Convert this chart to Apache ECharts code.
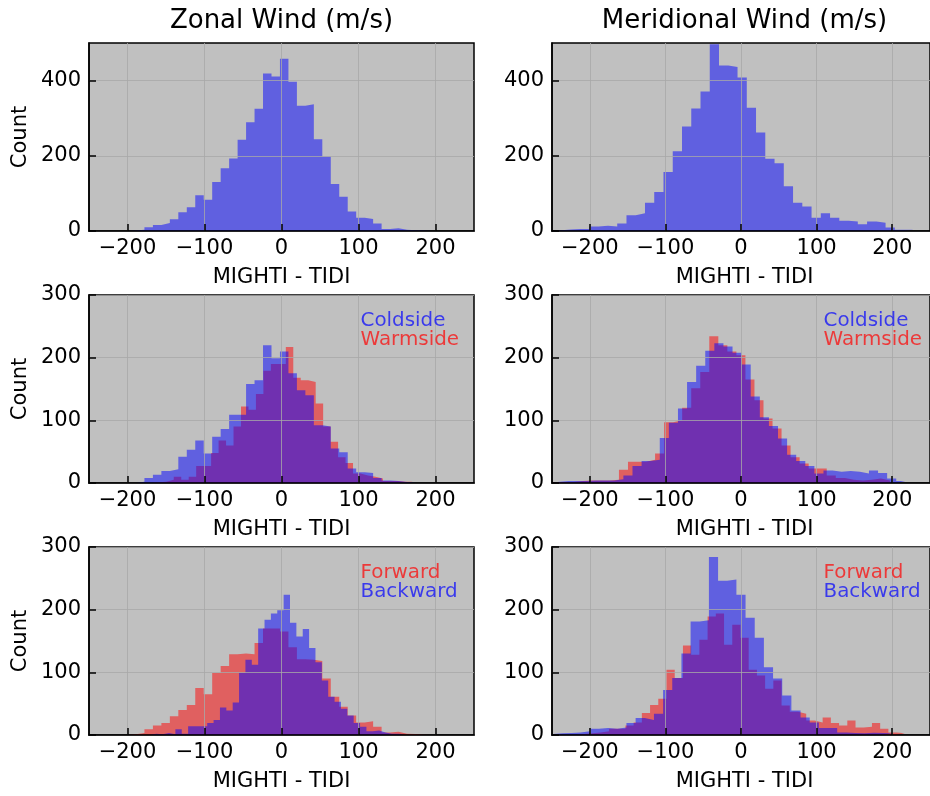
<!DOCTYPE html>
<html><head><meta charset="utf-8">
<script src="https://cdn.jsdelivr.net/npm/echarts@6/dist/echarts.min.js"></script>
<style>html,body{margin:0;padding:0;background:#fff}#c{width:930px;height:796px}</style>
</head><body><div id="c"></div>
<script>
// ---------- data ----------
const xTicks = [-200, -100, 0, 100, 200];
const yTicksTop = [0, 200, 400];
const yTicksLow = [0, 100, 200, 300];
const columnTitles = ['Zonal Wind (m/s)', 'Meridional Wind (m/s)'];
const xName = 'MIGHTI - TIDI';
const yName = 'Count';
const labelsSide = ['Coldside', 'Warmside'];
const labelsDir = ['Forward', 'Backward'];

// each histogram: first bin edge, bin width, counts
const zonalAllStart = -200, zonalAllWidth = 11;
const zonalAllCounts = [1,3,10,16,21,31,50,63,95,83,130,167,193,243,289,325,419,411,458,397,333,337,244,198,125,91,52,35,32,20,5,7,3,2,1,2];

const meridAllStart = -249.4, meridAllWidth = 12.24;
const meridAllCounts = [2,4,5,5,12,14,12,20,42,47,75,104,157,212,278,326,371,497,440,436,408,328,262,192,180,119,75,65,35,47,35,27,25,18,25,22,9,3,3];

const zonalColdStart = -200, zonalColdWidth = 11;
const zonalColdCounts = [0,2,8,13,19,22,42,53,68,47,74,86,109,109,158,164,220,199,210,175,148,140,92,90,55,49,23,17,16,8,4,3,1.5,1.5];

const zonalWarmStart = -169.0, zonalWarmWidth = 9.7;
const zonalWarmCounts = [1,2,5,10,5,10,27,27,48,68,60,90,122,117,142,179,190,190,217,168,164,161,127,90,66,41,32,15,12,10,7,3,3,2,2];

const meridColdStart = -251.8, meridColdWidth = 12.03;
const meridColdCounts = [2,3,3,3,4,4,4,6,12,27,35,37,72,96,119,161,187,211,223,218,208,189,138,105,91,71,45,35,27,15,20,18,19,18,15,20,16,7,3];

const meridWarmStart = -257.05, meridWarmWidth = 11.95;
const meridWarmCounts = [1.5,1.5,1.5,3,4,4,4,5,21,34,34,37,47,97,100,120,151,177,234,220,210,204,165,132,103,87,60,41,31,23,23,12,8,5,4,5,7,4];

const zonalFwdStart = -200, zonalFwdWidth = 11;
const zonalFwdCounts = [1,3,9,15,19,30,40,48,75,65,99,110,129,130,129,147,170,170,165,140,121,120,118,90,61,45,31,20,22,13,4,5,2,1.5,0.5,2];

const zonalBwdStart = -170.9, zonalBwdWidth = 8.27;
const zonalBwdCounts = [2,1,3,1,9,2,14,14,14,19,24,44,39,52,99,120,112,170,184,194,199,224,179,157,169,139,116,87,61,53,42,31,19,13,6,7,4,2,2,1];

const meridFwdStart = -218.1, meridFwdWidth = 10.87;
const meridFwdCounts = [1.5,2.7,4,6,10,10,15,20,35,48,58,104,91,143,128,152,189,194,144,176,155,104,95,74,87,47,37,34,23,20,28,19,15,23,12,13,19,10,4,2.7];

const meridBwdStart = -260.6, meridBwdWidth = 12.12;
const meridBwdCounts = [1.5,2.7,3,4,6,10,11,10,12,19,27,24,34,72,91,130,181,183,284,246,248,224,187,155,108,90,63,39,28,20,11,11,4,3,2.7,3.7,3,2.7];

// ---------- layout / style ----------
const FONT = 'DejaVu Sans';
const RED = 'rgb(255,0,0)', BLUE = 'rgb(0,0,255)';
const lefts = [89, 552], tops = [43, 295, 547], W = 385, H = 188;

function steps(start, width, counts) {
  const pts = [[start, 0]];
  counts.forEach((c, i) => pts.push([start + i * width, c]));
  pts.push([start + counts.length * width, 0]);
  return pts;
}
const fmt = v => (v < 0 ? '\u2212' + (-v) : String(v));

const panels = [
  { row: 0, col: 0, ymax: 500, yt: yTicksTop, hists: [[zonalAllStart, zonalAllWidth, zonalAllCounts, BLUE]] },
  { row: 0, col: 1, ymax: 500, yt: yTicksTop, hists: [[meridAllStart, meridAllWidth, meridAllCounts, BLUE]] },
  { row: 1, col: 0, ymax: 300, yt: yTicksLow, hists: [[zonalWarmStart, zonalWarmWidth, zonalWarmCounts, RED], [zonalColdStart, zonalColdWidth, zonalColdCounts, BLUE]], labels: [[labelsSide[0], BLUE], [labelsSide[1], RED]] },
  { row: 1, col: 1, ymax: 300, yt: yTicksLow, hists: [[meridWarmStart, meridWarmWidth, meridWarmCounts, RED], [meridColdStart, meridColdWidth, meridColdCounts, BLUE]], labels: [[labelsSide[0], BLUE], [labelsSide[1], RED]] },
  { row: 2, col: 0, ymax: 300, yt: yTicksLow, hists: [[zonalFwdStart, zonalFwdWidth, zonalFwdCounts, RED], [zonalBwdStart, zonalBwdWidth, zonalBwdCounts, BLUE]], labels: [[labelsDir[0], RED], [labelsDir[1], BLUE]] },
  { row: 2, col: 1, ymax: 300, yt: yTicksLow, hists: [[meridFwdStart, meridFwdWidth, meridFwdCounts, RED], [meridBwdStart, meridBwdWidth, meridBwdCounts, BLUE]], labels: [[labelsDir[0], RED], [labelsDir[1], BLUE]] }
];

const grid = [], xAxis = [], yAxis = [], series = [], graphic = [];
const splitStyle = { color: 'rgba(168,168,168,0.8)', width: 1 };
panels.forEach((p, i) => {
  const L = lefts[p.col], T = tops[p.row];
  grid.push({ left: L, top: T, width: W, height: H, show: true, backgroundColor: '#c0c0c0', borderColor: '#000', borderWidth: 1.5, containLabel: false });
  xAxis.push({
    type: 'value', gridIndex: i, min: -250, max: 250, z: 10,
    axisLine: { show: true, onZero: false, lineStyle: { color: '#000', width: 1.5 } },
    axisTick: { show: true, inside: true, length: 7, customValues: xTicks, lineStyle: { color: '#000', width: 1.5 } },
    axisLabel: { show: true, customValues: xTicks, formatter: fmt, color: '#000', fontSize: 21, fontFamily: FONT, margin: 7 },
    splitLine: { show: true, lineStyle: splitStyle }
  });
  yAxis.push({
    type: 'value', gridIndex: i, min: 0, max: p.ymax, z: 10,
    axisLine: { show: true, onZero: false, lineStyle: { color: '#000', width: 1.5 } },
    axisTick: { show: true, inside: true, length: 7, customValues: p.yt, lineStyle: { color: '#000', width: 1.5 } },
    axisLabel: { show: true, customValues: p.yt, color: '#000', fontSize: 21, fontFamily: FONT, margin: 8 },
    splitLine: { show: true, lineStyle: splitStyle }
  });
  p.hists.forEach(h => {
    series.push({
      type: 'line', xAxisIndex: i, yAxisIndex: i, step: 'end', symbol: 'none', showSymbol: false,
      data: steps(h[0], h[1], h[2]), lineStyle: { width: 0, opacity: 0 },
      areaStyle: { color: h[3], opacity: 0.5 }, silent: true, z: 2, animation: false,
      emphasis: { disabled: true }
    });
  });
  // axis names
  graphic.push({ type: 'text', x: L + W / 2, y: T + H + 47, style: { text: xName, font: '21px "' + FONT + '"', fill: '#000', align: 'center', verticalAlign: 'middle', textAlign: 'center', textVerticalAlign: 'middle' } });
  if (p.col === 0) {
    graphic.push({ type: 'text', x: 21, y: T + H / 2, rotation: Math.PI / 2, style: { text: yName, font: '21px "' + FONT + '"', fill: '#000', align: 'center', verticalAlign: 'middle', textAlign: 'center', textVerticalAlign: 'middle' } });
  }
  if (p.labels) {
    p.labels.forEach((lb, k) => {
      graphic.push({ type: 'text', x: L + 271.5, y: T + 25.5 + 19 * k, z: 20, style: { text: lb[0], font: '19.9px "' + FONT + '"', fill: lb[1], opacity: 0.7, align: 'left', verticalAlign: 'middle', textAlign: 'left', textVerticalAlign: 'middle' } });
    });
  }
});
columnTitles.forEach((t, c) => {
  graphic.push({ type: 'text', x: lefts[c] + W / 2, y: 21, style: { text: t, font: '26px "' + FONT + '"', fill: '#000', align: 'center', verticalAlign: 'middle', textAlign: 'center', textVerticalAlign: 'middle' } });
});

const chart = echarts.init(document.getElementById('c'), null, { renderer: 'canvas' });
chart.setOption({ animation: false, backgroundColor: '#fff', grid, xAxis, yAxis, series, graphic });
</script></body></html>
